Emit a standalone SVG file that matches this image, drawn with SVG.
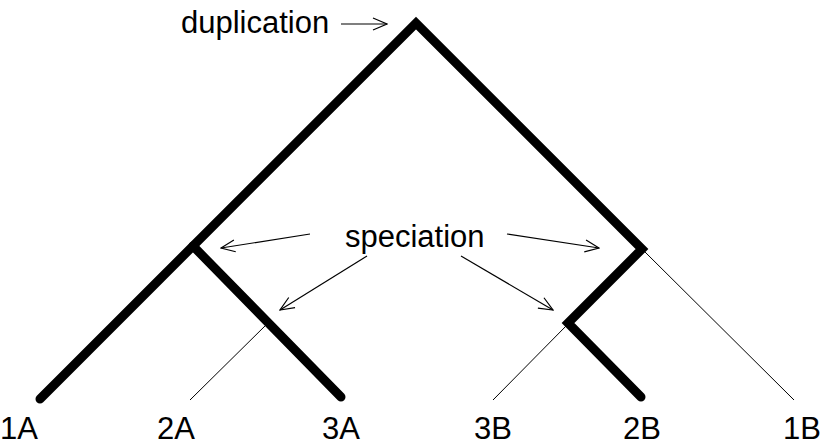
<svg xmlns="http://www.w3.org/2000/svg" width="822" height="446" viewBox="0 0 822 446">
  <defs>
    <style>
      .lbl { font-family: "Liberation Sans", Arial, sans-serif; font-size: 31px; fill: #000; }
      .thick { fill: none; stroke: #000; stroke-width: 9; stroke-linecap: round; stroke-linejoin: miter; }
      .thin { fill: none; stroke: #000; stroke-width: 1; }
      .ann { fill: none; stroke: #000; stroke-width: 1.2; }
    </style>
    <marker id="open" viewBox="0 0 16 14" refX="15" refY="7" markerWidth="16" markerHeight="14" markerUnits="userSpaceOnUse" orient="auto">
      <path d="M1,1 L15,7 L1,13" fill="none" stroke="#000" stroke-width="1.2"/>
    </marker>
  </defs>
  <rect width="822" height="446" fill="#fff"/>
  <g id="connectors">
    <path class="thick" d="M40,399 L416,23 L642,249 L568,323 L641,397"/>
    <path class="thick" d="M193,246 L341,397"/>
    <path class="thin" d="M268,323 L190,400"/>
    <path class="thin" d="M568,324 L493,400"/>
    <path class="thin" d="M642,249 L794,400"/>
  </g>
  <g id="annotations">
    <g id="duplication">
      <text class="lbl" x="181" y="33">duplication</text>
      <path class="ann" d="M341,24 L387,24" marker-end="url(#open)"/>
    </g>
    <g id="speciation">
      <text class="lbl" x="345" y="247">speciation</text>
      <path class="ann" d="M310,234 L221,248" marker-end="url(#open)"/>
      <path class="ann" d="M367,256 L280,310" marker-end="url(#open)"/>
      <path class="ann" d="M507,234 L599,248" marker-end="url(#open)"/>
      <path class="ann" d="M461,256 L553,310" marker-end="url(#open)"/>
    </g>
  </g>
  <g id="leaf-1A"><text class="lbl" x="19" y="439" text-anchor="middle">1A</text></g>
  <g id="leaf-2A"><text class="lbl" x="176" y="439" text-anchor="middle">2A</text></g>
  <g id="leaf-3A"><text class="lbl" x="341" y="439" text-anchor="middle">3A</text></g>
  <g id="leaf-3B"><text class="lbl" x="493" y="439" text-anchor="middle">3B</text></g>
  <g id="leaf-2B"><text class="lbl" x="642" y="439" text-anchor="middle">2B</text></g>
  <g id="leaf-1B"><text class="lbl" x="802" y="439" text-anchor="middle">1B</text></g>
</svg>
